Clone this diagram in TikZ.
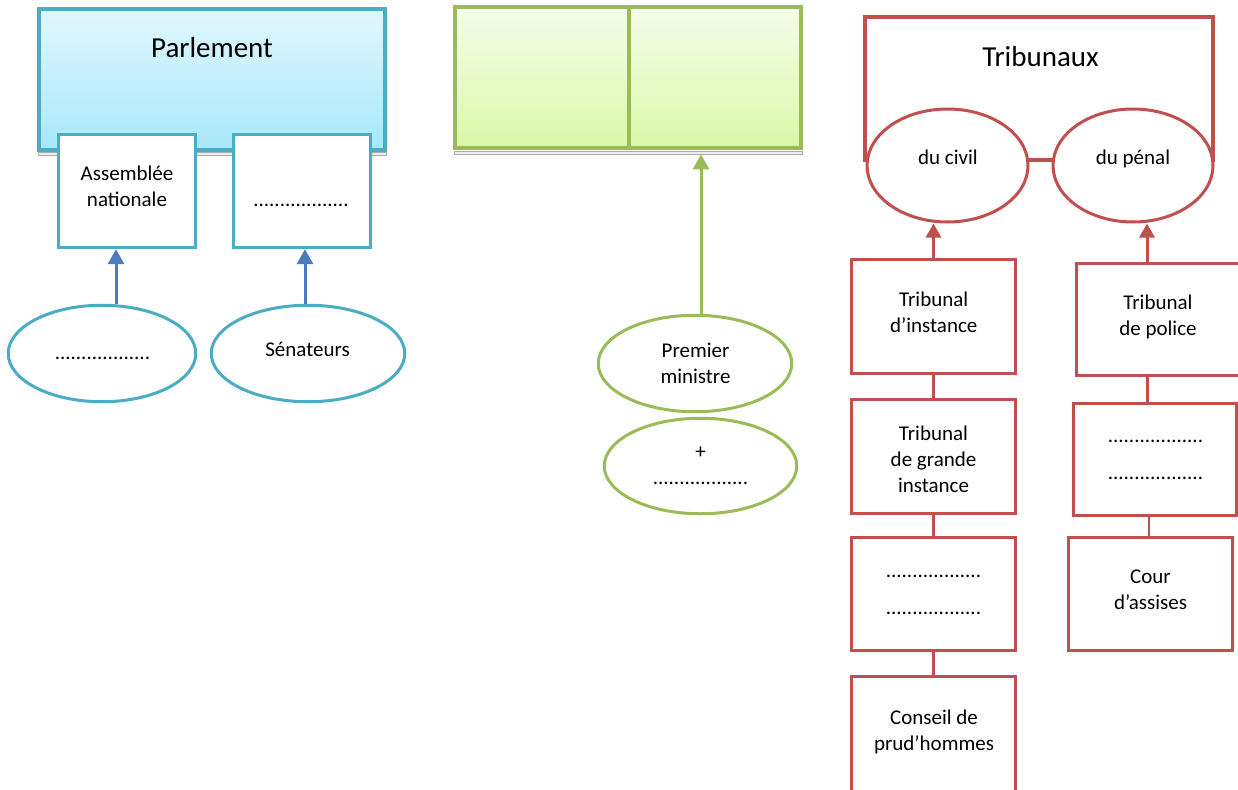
\documentclass[tikz,border=0pt]{standalone}
\usepackage{fontspec}
\setmainfont{Carlito}
\usetikzlibrary{arrows.meta,shapes.geometric}
\definecolor{cy}{HTML}{4BACC6}
\definecolor{bl}{HTML}{4A7EBB}
\definecolor{gn}{HTML}{9BBB59}
\definecolor{rd}{HTML}{C0504D}
\definecolor{cytop}{HTML}{E2F7FD}
\definecolor{cybot}{HTML}{A6E8FB}
\definecolor{gntop}{HTML}{F4FDEA}
\definecolor{gnbot}{HTML}{DAF8A8}
\begin{document}
\begin{tikzpicture}[x=1pt,y=-1pt,
  txt/.style={font=\fontsize{21}{26}\selectfont, align=center, inner sep=0pt},
  ttl/.style={font=\fontsize{29}{35}\selectfont, inner sep=0pt},
  shbar/.style={draw=gray!65, fill=gray!15, line width=0.8pt, minimum height=3pt, inner sep=0pt},
  bigcy/.style={draw=cy, line width=4.5pt, top color=cytop, bottom color=cybot, inner sep=0pt},
  biggn/.style={draw=gn, line width=4.5pt, top color=gntop, bottom color=gnbot, inner sep=0pt},
  cybox/.style={draw=cy, line width=2.8pt, fill=white, inner sep=0pt},
  cyell/.style={ellipse, draw=cy, line width=3pt, fill=white, inner sep=0pt},
  gnell/.style={ellipse, draw=gn, line width=3pt, fill=white, inner sep=0pt},
  rdframe/.style={draw=rd, line width=4.2pt, inner sep=0pt},
  rdell/.style={ellipse, draw=rd, line width=3pt, fill=white, inner sep=0pt},
  rdbox/.style={draw=rd, line width=3pt, fill=white, inner sep=0pt},
  rdlink/.style={draw=rd, line width=2.4pt},
  blarrow/.style={draw=bl, line width=3pt, -{Triangle[width=16pt,length=15pt]}},
  gnarrow/.style={draw=gn, line width=3pt, -{Triangle[width=16pt,length=15pt]}},
  rdarrow/.style={draw=rd, line width=3pt, -{Triangle[width=15pt,length=14pt]}},
]
\clip (0,0) rectangle (1238,789);
\fill[white] (0,0) rectangle (1238,789);

% ---------- Parlement ----------
\node[shbar, minimum width=348pt] (psh) at (212,154) {};
\node[bigcy, minimum width=346pt, minimum height=141pt] (parl) at (212,79.5) {};
\node[ttl] (parlt) at (212,48) {Parlement};
\node[cybox, minimum width=137.5pt, minimum height=113.5pt] (an) at (127,191) {};
\node[cybox, minimum width=137.5pt, minimum height=113.5pt] (sn) at (302,191) {};
\node[txt] (ant) at (127,186.5) {Assemblée\\nationale};
\node[txt, anchor=base] (snt) at (301,206) {..................};
\node[cyell, minimum width=187.5pt, minimum height=96.5pt] (e1) at (102,353.5) {};
\node[cyell, minimum width=193.5pt, minimum height=96.5pt] (e2) at (308,353.5) {};
\node[txt, anchor=base] (e1t) at (102.5,359) {..................};
\node[txt, anchor=base] (e2t) at (307.5,356) {Sénateurs};
\draw[blarrow] ([xshift=14pt]e1.north) -- ([xshift=14pt]e1.north |- an.south);
\draw[blarrow] ([xshift=-3pt]e2.north) -- ([xshift=-3pt]e2.north |- sn.south);

% ---------- Gouvernement (green) ----------
\node[shbar, minimum width=348pt] (gsh) at (628,152.5) {};
\node[biggn, minimum width=174pt, minimum height=141pt] (gl) at (542,77.5) {};
\node[biggn, minimum width=172pt, minimum height=141pt] (gr) at (715,77.5) {};
\node[gnell, minimum width=193.5pt, minimum height=96.5pt] (pm) at (695,363.5) {};
\node[gnell, minimum width=192.5pt, minimum height=95.5pt] (pl) at (700.5,466) {};
\node[txt] (pmt) at (695.5,363) {Premier\\ministre};
\node[txt] (plt) at (700.5,466) {+\\..................};
\draw[gnarrow] ([xshift=6pt]pm.north) -- ([xshift=6pt]pm.north |- gsh.south);

% ---------- Tribunaux ----------
\node[rdframe, minimum width=348pt, minimum height=143pt] (trib) at (1039,88.5) {};
\node[ttl] (tribt) at (1040.5,57) {Tribunaux};
\node[rdell, minimum width=161pt, minimum height=113pt] (civ) at (947.5,165.5) {};
\node[rdell, minimum width=160pt, minimum height=113pt] (pen) at (1133,165.5) {};
\node[txt, anchor=base] (civt) at (948,164) {du civil};
\node[txt, anchor=base] (pent) at (1133,164) {du pénal};

% left column
\node[rdbox, minimum width=164.5pt, minimum height=114.5pt] (ti) at (933.5,316.5) {};
\node[rdbox, minimum width=164.5pt, minimum height=114.5pt] (tg) at (933.5,456.5) {};
\node[rdbox, minimum width=164.5pt, minimum height=113.5pt] (td) at (933.5,594) {};
\node[rdbox, minimum width=164.5pt, minimum height=122.5pt] (cp) at (933.5,738) {};
\node[txt] (tit) at (933.7,312) {Tribunal\\d’instance};
\node[txt] (tgt) at (933.5,459.5) {Tribunal\\de grande\\instance};
\node[txt] (tdt) at (933.5,595) {..................\\[11pt]..................};
\node[txt] (cpt) at (934,731.5) {Conseil de\\prud’hommes};
\draw[rdarrow] (ti.north) -- (ti.north |- civ.south);
\draw[rdlink] (ti.south) -- (tg.north);
\draw[rdlink] (tg.south) -- (td.north);
\draw[rdlink] (td.south) -- (cp.north);

% right column
\node[rdbox, minimum width=164.5pt, minimum height=112.5pt] (tp) at (1158.5,319.5) {};
\node[rdbox, minimum width=163.5pt, minimum height=112.5pt] (tr) at (1155,459.5) {};
\node[rdbox, minimum width=164.5pt, minimum height=113.5pt] (ca) at (1150.5,594) {};
\node[txt] (tpt) at (1158,317) {Tribunal\\de police};
\node[txt] (trt) at (1155.5,460) {..................\\[11pt]..................};
\node[txt] (cat) at (1150.5,589.5) {Cour\\d’assises};
\draw[rdarrow] ([xshift=14pt]pen.south |- tp.north) -- ([xshift=14pt]pen.south);
\draw[rdlink] ([xshift=-11pt]tp.south) -- ([xshift=-11pt]tp.south |- tr.north);
\draw[rdlink] ([xshift=-6pt]tr.south) -- ([xshift=-6pt]tr.south |- ca.north);
\end{tikzpicture}
\end{document}
